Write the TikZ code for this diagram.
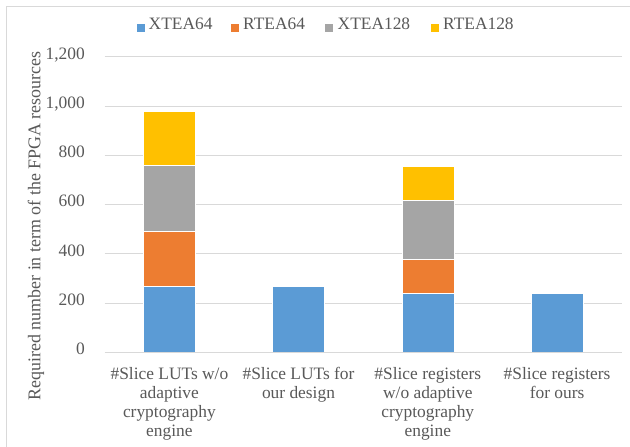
\documentclass[tikz,border=0pt]{standalone}
\usepackage{fontspec}
\setmainfont{Liberation Serif}
\definecolor{cblue}{HTML}{5B9BD5}
\definecolor{corange}{HTML}{ED7D31}
\definecolor{cgray}{HTML}{A5A5A5}
\definecolor{cyellow}{HTML}{FFC000}
\definecolor{gridc}{HTML}{D9D9D9}
\definecolor{txtc}{HTML}{595959}
% value -> vertical position (pixels measured downwards)
\newcommand\valy[1]{352.3-0.24625*#1}
% one stacked segment: colour, bar centre, lower value, upper value
\newcommand\barseg[4]{\fill[#1, draw=white, line width=0.6pt] (#2-26,{\valy{#3}}) rectangle (#2+26,{\valy{#4}});}
\begin{document}
\begin{tikzpicture}[x=1pt, y=-1pt,
  every node/.style={font=\fontsize{17.4}{19}\selectfont, text=txtc, inner sep=0pt},
  gridline/.style={gridc, line width=0.9pt},
  ticklab/.style={anchor=mid east},
  catlab/.style={anchor=north, align=center},
  legsq/.style={minimum size=8pt, inner sep=0pt},
  legtxt/.style={anchor=mid west}]
\useasboundingbox (0,0) rectangle (630,447);
\fill[white] (0,0) rectangle (630,447);
% chart frame
\draw[gridc, line width=0.9pt] (6.5,447) -- (6.5,6.5) -- (630,6.5);
% grid and tick labels
\foreach \v/\lab [count=\i] in {200/200,400/400,600/600,800/800,1000/{1,000},1200/{1,200}} {
  \draw[gridline] (104.6,{\valy{\v}}) -- (621.7,{\valy{\v}});
  \node[ticklab] (t\i) at (85,{\valy{\v}}) {\lab};
}
\node[ticklab] (t0) at (85,{\valy{0}}) {0};
% bars
\barseg{cblue}{169.2}{0}{269}
\barseg{corange}{169.2}{269}{491}
\barseg{cgray}{169.2}{491}{760}
\barseg{cyellow}{169.2}{760}{979}
\barseg{cblue}{298.5}{0}{269}
\barseg{cblue}{427.8}{0}{240}
\barseg{corange}{427.8}{240}{376}
\barseg{cgray}{427.8}{376}{616}
\barseg{cyellow}{427.8}{616}{755}
\barseg{cblue}{557.1}{0}{238}
% category axis
\draw[gridline] (104.6,{\valy{0}}) -- (621.7,{\valy{0}});
\node[catlab] (c1) at (169.4,367.5) {\#Slice LUTs w/o\\adaptive\\cryptography\\engine};
\node[catlab] (c2) at (298.5,367.5) {\#Slice LUTs for\\our design};
\node[catlab] (c3) at (427.8,367.5) {\#Slice registers\\w/o adaptive\\cryptography\\engine};
\node[catlab] (c4) at (557.1,367.5) {\#Slice registers\\for ours};
% axis title
\node[rotate=90, font=\fontsize{17.9}{19}\selectfont] (ytitle) at (36,226) {Required number in term of the FPGA resources};
% legend
\node[legsq, fill=cblue] (s1) at (140.5,27.7) {};
\node[legtxt] (l1) at (148.5,27.7) {XTEA64};
\node[legsq, fill=corange] (s2) at (235,27.7) {};
\node[legtxt] (l2) at (243,27.7) {RTEA64};
\node[legsq, fill=cgray] (s3) at (329,27.7) {};
\node[legtxt] (l3) at (337.5,27.7) {XTEA128};
\node[legsq, fill=cyellow] (s4) at (435,27.7) {};
\node[legtxt] (l4) at (443,27.7) {RTEA128};
\end{tikzpicture}
\end{document}
